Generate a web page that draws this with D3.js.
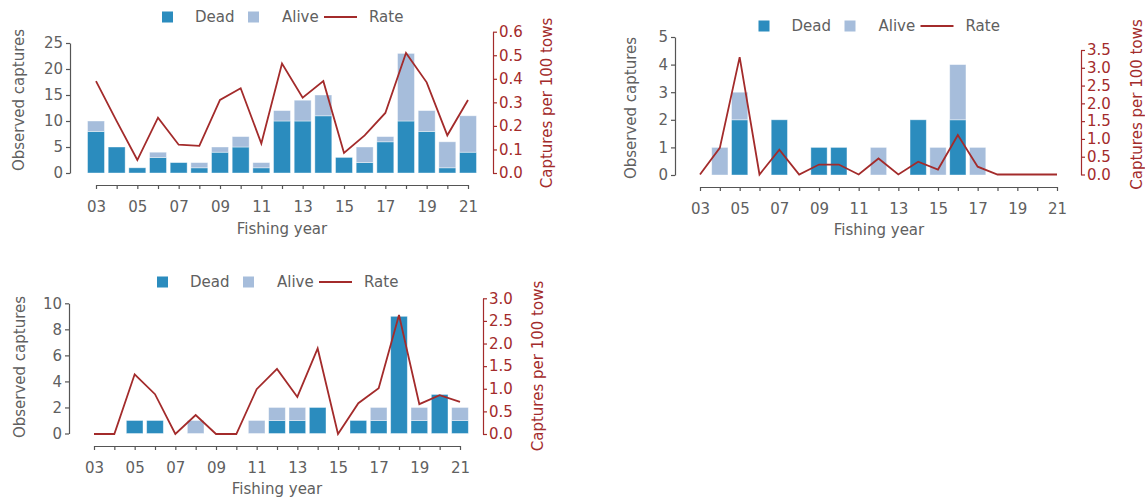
<!DOCTYPE html>
<html>
<head>
<meta charset="utf-8">
<script src="https://cdn.jsdelivr.net/npm/d3@7"></script>
<style>
  html, body { margin: 0; padding: 0; background: #ffffff; }
  svg { display: block; }
  text { font-family: "DejaVu Sans", sans-serif; }
</style>
</head>
<body>
<svg id="chart" width="1145" height="499"></svg>
<script>
// ---------------- data ----------------
const years = ["03","04","05","06","07","08","09","10","11","12","13","14","15","16","17","18","19","20","21"];
const legendLabels = ["Dead", "Alive", "Rate"];
const xTitle = "Fishing year";
const leftTitle = "Observed captures";
const rightTitle = "Captures per 100 tows";

// Panel A (top left)
const deadA  = [8, 5, 1, 3, 2, 1, 4, 5, 1, 10, 10, 11, 3, 2, 6, 10, 8, 1, 4];
const aliveA = [2, 0, 0, 1, 0, 1, 1, 2, 1, 2, 4, 4, 0, 3, 1, 13, 4, 5, 7];
const rateA  = [0.39, 0.22, 0.055, 0.235, 0.12, 0.115, 0.31, 0.36, 0.125, 0.465, 0.32, 0.39, 0.085, 0.16, 0.255, 0.51, 0.385, 0.16, 0.31];
const leftTicksA  = [0, 5, 10, 15, 20, 25];
const rightTicksA = [0, 0.1, 0.2, 0.3, 0.4, 0.5, 0.6];

// Panel B (top right)
const deadB  = [0, 0, 2, 0, 2, 0, 1, 1, 0, 0, 0, 2, 0, 2, 0, 0, 0, 0, 0];
const aliveB = [0, 1, 1, 0, 0, 0, 0, 0, 0, 1, 0, 0, 1, 2, 1, 0, 0, 0, 0];
const rateB  = [0, 0.75, 3.3, 0, 0.7, 0, 0.28, 0.28, 0, 0.45, 0, 0.36, 0.14, 1.11, 0.22, 0, 0, 0, 0];
const leftTicksB  = [0, 1, 2, 3, 4, 5];
const rightTicksB = [0, 0.5, 1.0, 1.5, 2.0, 2.5, 3.0, 3.5];

// Panel C (bottom left)
const deadC  = [0, 0, 1, 1, 0, 0, 0, 0, 0, 1, 1, 2, 0, 1, 1, 9, 1, 3, 1];
const aliveC = [0, 0, 0, 0, 0, 1, 0, 0, 1, 1, 1, 0, 0, 0, 1, 0, 1, 0, 1];
const rateC  = [0, 0, 1.32, 0.88, 0, 0.42, 0, 0, 0.99, 1.44, 0.82, 1.89, 0, 0.68, 1.01, 2.63, 0.66, 0.86, 0.71];
const leftTicksC  = [0, 2, 4, 6, 8, 10];
const rightTicksC = [0, 0.5, 1.0, 1.5, 2.0, 2.5, 3.0];

// ---------------- styles / layout ----------------
const COL_DEAD = "#2b8cbe";
const COL_ALIVE = "#a6bddb";
const COL_RATE = "#a32b2b";
const COL_AXIS = "#555555";
const COL_TEXT = "#606060";
const FONT = 15;

const layoutA = { left: 70, x0: 96, x1: 468, right: 493, axisY: 185,
  y0L: 173, yTopL: 43, y0R: 173, yTopR: 31.7,
  leftLab: [19, 100], rightLab: [547, 103], xLab: [282, 229], legendY: 17 };
const layoutB = { left: 675, x0: 700, x1: 1057, right: 1081, axisY: 187,
  y0L: 175, yTopL: 37, y0R: 174.5, yTopR: 50,
  leftLab: [631, 108], rightLab: [1137, 104.5], xLab: [879, 230], legendY: 26 };
const layoutC = { left: 69, x0: 94, x1: 460, right: 483, axisY: 446,
  y0L: 433.5, yTopL: 303.3, y0R: 434, yTopR: 298.3,
  leftLab: [20, 367], rightLab: [538, 366], xLab: [277, 489], legendY: 282 };

const svg = d3.select("#chart");

function styleAxis(g, color, textColor) {
  g.attr("font-family", "DejaVu Sans, sans-serif").attr("font-size", FONT);
  g.selectAll("path.domain").attr("stroke", color).attr("stroke-width", 1.2);
  g.selectAll(".tick line").attr("stroke", color).attr("stroke-width", 1.2);
  g.selectAll(".tick text").attr("fill", textColor);
}

function drawPanel(L, dead, alive, rate, leftTicks, rightTicks) {
  const g = svg.append("g");
  const x = d3.scalePoint().domain(years).range([L.x0, L.x1]);
  const yL = d3.scaleLinear().domain([0, d3.max(leftTicks)]).range([L.y0L, L.yTopL]);
  const yR = d3.scaleLinear().domain([0, d3.max(rightTicks)]).range([L.y0R, L.yTopR]);
  const bw = x.step() * 0.82;

  const rows = years.map((yr, i) => ({ yr, dead: dead[i], alive: alive[i], rate: rate[i] }));

  // dead bars
  g.append("g").selectAll("rect")
    .data(rows.filter(d => d.dead > 0))
    .join("rect")
    .attr("x", d => x(d.yr) - bw / 2)
    .attr("width", bw)
    .attr("y", d => yL(d.dead))
    .attr("height", d => yL(0) - yL(d.dead))
    .attr("fill", COL_DEAD)
    .attr("stroke", "#ffffff").attr("stroke-opacity", 0.5).attr("stroke-width", 0.8);

  // alive bars stacked on top
  g.append("g").selectAll("rect")
    .data(rows.filter(d => d.alive > 0))
    .join("rect")
    .attr("x", d => x(d.yr) - bw / 2)
    .attr("width", bw)
    .attr("y", d => yL(d.dead + d.alive))
    .attr("height", d => yL(d.dead) - yL(d.dead + d.alive))
    .attr("fill", COL_ALIVE)
    .attr("stroke", "#ffffff").attr("stroke-opacity", 0.5).attr("stroke-width", 0.8);

  // rate line
  const line = d3.line().x(d => x(d.yr)).y(d => yR(d.rate));
  g.append("path").datum(rows)
    .attr("d", line)
    .attr("fill", "none")
    .attr("stroke", COL_RATE)
    .attr("stroke-width", 1.8)
    .attr("stroke-linejoin", "miter");

  // x axis
  const xAxis = d3.axisBottom(x)
    .tickSize(4).tickSizeOuter(0).tickPadding(12)
    .tickFormat((d, i) => (i % 2 === 0 ? d : ""));
  const gx = g.append("g").attr("transform", `translate(0,${L.axisY})`).call(xAxis);
  styleAxis(gx, COL_AXIS, COL_TEXT);

  // left axis
  const yAxisL = d3.axisLeft(yL).tickValues(leftTicks).tickSize(4).tickSizeOuter(0).tickPadding(3)
    .tickFormat(d3.format("d"));
  const gl = g.append("g").attr("transform", `translate(${L.left},0)`).call(yAxisL);
  styleAxis(gl, COL_AXIS, COL_TEXT);

  // right axis
  const yAxisR = d3.axisRight(yR).tickValues(rightTicks).tickSize(4).tickSizeOuter(0).tickPadding(2)
    .tickFormat(d3.format(".1f"));
  const gr = g.append("g").attr("transform", `translate(${L.right},0)`).call(yAxisR);
  styleAxis(gr, COL_RATE, COL_RATE);

  // titles
  g.append("text")
    .attr("x", L.xLab[0]).attr("y", L.xLab[1])
    .attr("text-anchor", "middle").attr("dominant-baseline", "central")
    .attr("font-size", FONT).attr("fill", COL_TEXT)
    .text(xTitle);
  g.append("text")
    .attr("transform", `translate(${L.leftLab[0]},${L.leftLab[1]}) rotate(-90)`)
    .attr("text-anchor", "middle").attr("dominant-baseline", "central")
    .attr("font-size", FONT).attr("fill", COL_TEXT)
    .text(leftTitle);
  g.append("text")
    .attr("transform", `translate(${L.rightLab[0]},${L.rightLab[1]}) rotate(-90)`)
    .attr("text-anchor", "middle").attr("dominant-baseline", "central")
    .attr("font-size", FONT).attr("fill", COL_RATE)
    .text(rightTitle);

  // legend
  const cx = (L.x0 + L.x1) / 2;
  const ly = L.legendY;
  const lg = g.append("g");
  lg.append("rect").attr("x", cx - 120).attr("y", ly - 5.5).attr("width", 11).attr("height", 11).attr("fill", COL_DEAD);
  lg.append("text").attr("x", cx - 87).attr("y", ly).attr("dominant-baseline", "central")
    .attr("font-size", FONT).attr("fill", COL_TEXT).text(legendLabels[0]);
  lg.append("rect").attr("x", cx - 34).attr("y", ly - 5.5).attr("width", 11).attr("height", 11).attr("fill", COL_ALIVE);
  lg.append("text").attr("x", cx).attr("y", ly).attr("dominant-baseline", "central")
    .attr("font-size", FONT).attr("fill", COL_TEXT).text(legendLabels[1]);
  lg.append("line").attr("x1", cx + 42).attr("x2", cx + 75).attr("y1", ly).attr("y2", ly)
    .attr("stroke", COL_RATE).attr("stroke-width", 2);
  lg.append("text").attr("x", cx + 87).attr("y", ly).attr("dominant-baseline", "central")
    .attr("font-size", FONT).attr("fill", COL_TEXT).text(legendLabels[2]);
}

drawPanel(layoutA, deadA, aliveA, rateA, leftTicksA, rightTicksA);
drawPanel(layoutB, deadB, aliveB, rateB, leftTicksB, rightTicksB);
drawPanel(layoutC, deadC, aliveC, rateC, leftTicksC, rightTicksC);
</script>
</body>
</html>
